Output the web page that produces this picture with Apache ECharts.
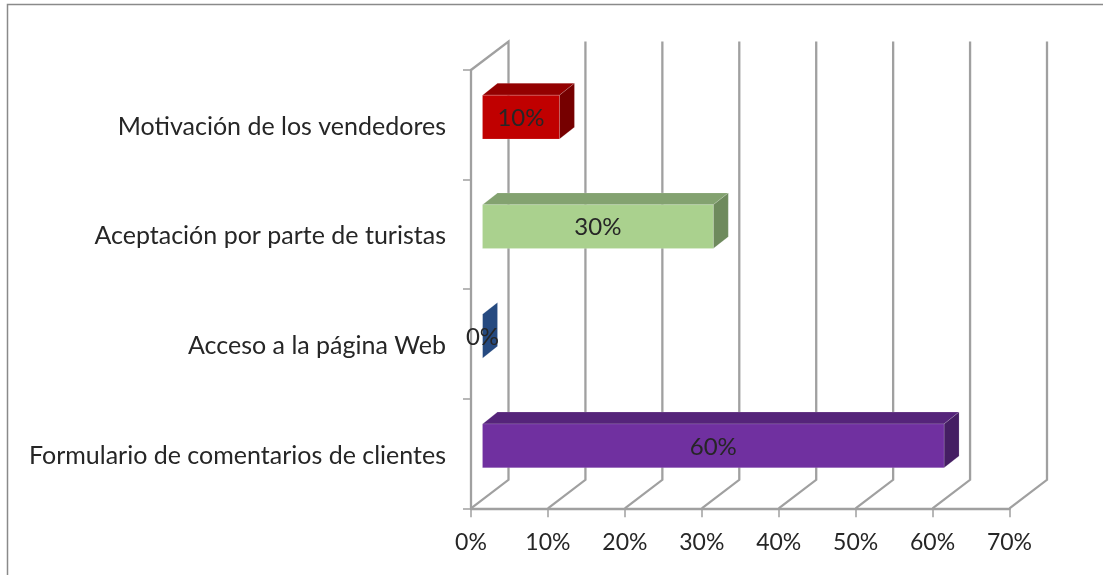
<!DOCTYPE html>
<html>
<head>
<meta charset="utf-8">
<style>html,body{margin:0;padding:0;background:#fff}#c{width:1103px;height:575px}</style>
<script src="https://cdn.jsdelivr.net/npm/echarts@6/dist/echarts.min.js"></script>
</head>
<body>
<div id="c"></div>
<script>
const categories = ['Formulario de comentarios de clientes', 'Acceso a la página Web', 'Aceptación por parte de turistas', 'Motivación de los vendedores'];
const values = [60, 0, 30, 10];
const xTicks = [0, 10, 20, 30, 40, 50, 60, 70];
const frontColors = ['#7030A0', '#2B4F8C', '#AAD18E', '#C00000'];
const topColors = ['#55247A', '#264478', '#83A270', '#930000'];
const sideColors = ['#451E63', '#264A80', '#6E8A5D', '#760000'];

const FONT = 'Lato';
const TEXT = '#262626';
const GRID = '#A0A0A0';
const WALL_DX = 37.5, WALL_DY = -28.5;
const BAR_DX = 15, BAR_DY = -11.8, BAR_SHIFT_X = 11.5, BAR_SHIFT_Y = -7.7, BAR_RATIO = 0.4;

function wallItem(params, api) {
  const cs = params.coordSys;
  const x = api.coord([api.value(0), 0])[0];
  const top = cs.y, bottom = cs.y + cs.height;
  const lineStyle = { stroke: GRID, lineWidth: 2.3, fill: null };
  const points = [[x, bottom], [x + WALL_DX, bottom + WALL_DY], [x + WALL_DX, top + WALL_DY]];
  if (api.value(0) === 0) points.push([x, top]);
  return { type: 'polyline', shape: { points }, style: lineStyle, silent: true };
}

function barItem(params, api) {
  const i = params.dataIndex;
  const end = api.coord([api.value(0), api.value(1)]);
  const start = api.coord([0, api.value(1)]);
  const h = api.size([0, 1])[1] * BAR_RATIO;
  const x0 = start[0] + BAR_SHIFT_X, x1 = end[0] + BAR_SHIFT_X;
  const y0 = end[1] + BAR_SHIFT_Y - h / 2, y1 = y0 + h;
  const edge = 'rgba(255,255,255,0.14)';
  const poly = (points, fill) => ({ type: 'polygon', shape: { points }, style: { fill, stroke: edge, lineWidth: 1 } });
  return {
    type: 'group',
    children: [
      poly([[x0, y0], [x1, y0], [x1 + BAR_DX, y0 + BAR_DY], [x0 + BAR_DX, y0 + BAR_DY]], topColors[i]),
      poly([[x1, y0], [x1 + BAR_DX, y0 + BAR_DY], [x1 + BAR_DX, y1 + BAR_DY], [x1, y1]], sideColors[i]),
      poly([[x0, y0], [x1, y0], [x1, y1], [x0, y1]], frontColors[i]),
      { type: 'text', x: (x0 + x1) / 2, y: (y0 + y1) / 2 + 1, z2: 10,
        style: { text: api.value(0) + '%', font: '24px ' + FONT, fill: TEXT, align: 'center', verticalAlign: 'middle' } }
    ]
  };
}

const chart = echarts.init(document.getElementById('c'), null, { renderer: 'canvas' });
chart.setOption({
  animation: false,
  backgroundColor: '#ffffff',
  graphic: [{
    type: 'polyline', silent: true,
    shape: { points: [[7.5, 600], [7.5, 4.5], [1110, 4.5]] },
    style: { stroke: '#8A8A8A', lineWidth: 1.5, fill: null }
  }],
  grid: { left: 471, right: 93.5, top: 70, bottom: 66.7, containLabel: false },
  xAxis: {
    type: 'value', min: 0, max: 70, interval: 10,
    axisLine: { show: true, lineStyle: { color: GRID, width: 2.3 } },
    axisTick: { show: true, length: 9, lineStyle: { color: GRID, width: 1.5 } },
    splitLine: { show: false },
    axisLabel: { show: true, formatter: '{value}%', margin: 23, color: TEXT, fontFamily: FONT, fontSize: 23, showMinLabel: true, showMaxLabel: true, hideOverlap: false },
    data: xTicks
  },
  yAxis: {
    type: 'category', data: categories,
    axisLine: { show: true, lineStyle: { color: GRID, width: 2.3 } },
    axisTick: { show: true, length: 8, lineStyle: { color: GRID, width: 1.5 } },
    axisLabel: {
      margin: 25, color: TEXT, fontFamily: FONT, fontSize: 25, interval: 0,
      formatter: v => '{a|' + v + '}',
      rich: { a: { color: TEXT, fontFamily: FONT, fontSize: 25, padding: [4, 0, 0, 0] } }
    }
  },
  series: [
    { type: 'custom', name: 'walls', coordinateSystem: 'cartesian2d', clip: false, silent: true, z: 1,
      renderItem: wallItem, encode: { x: 0, y: 1 },
      data: xTicks.map(v => [v, 0]) },
    { type: 'custom', name: 'bars', coordinateSystem: 'cartesian2d', clip: false, silent: true, z: 3,
      renderItem: barItem, encode: { x: 0, y: 1 },
      data: values.map((v, i) => [v, i]) }
  ]
});
</script>
</body>
</html>
